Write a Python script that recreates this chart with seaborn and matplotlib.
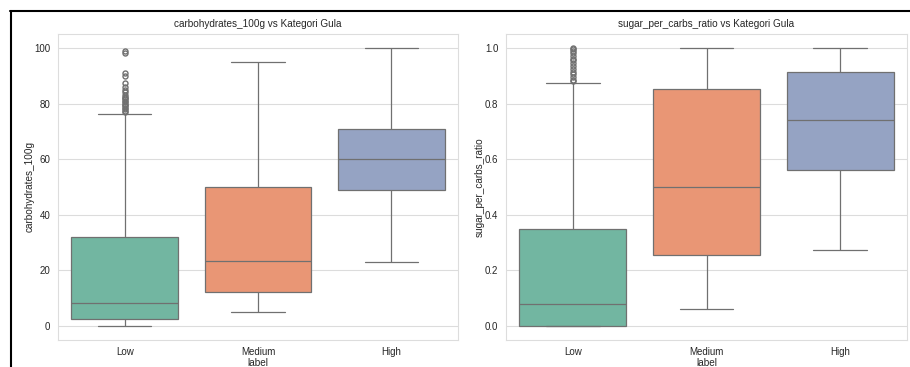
import numpy as np
import pandas as pd
import matplotlib
matplotlib.use("Agg")
import matplotlib.pyplot as plt
from matplotlib.lines import Line2D
import seaborn as sns

# Sugar categories on the x axis
categories = ["Low", "Medium", "High"]

# carbohydrates_100g: box-plot summary per category
carb_whislo = [0.0, 5.1, 23.0]
carb_q1 = [2.4, 12.4, 49.0]
carb_median = [8.3, 23.4, 60.0]
carb_q3 = [32.0, 49.9, 70.9]
carb_whishi = [76.3, 95.1, 100.0]
carb_outliers = [
    [77.0, 77.5, 78.0, 78.5, 79.0, 79.5, 80.0, 80.5, 81.0, 81.5, 82.0,
     82.5, 83.0, 84.0, 85.0, 86.0, 87.5, 90.0, 91.0, 98.2, 98.8],
    [],
    [],
]

# sugar_per_carbs_ratio: box-plot summary per category
ratio_whislo = [0.0, 0.061, 0.272]
ratio_q1 = [0.0, 0.256, 0.562]
ratio_median = [0.08, 0.50, 0.741]
ratio_q3 = [0.350, 0.854, 0.914]
ratio_whishi = [0.873, 1.0, 1.0]
ratio_outliers = [
    [0.88, 0.885, 0.895, 0.905, 0.915, 0.925, 0.935, 0.945, 0.955,
     0.96, 0.97, 0.98, 0.99, 0.995, 1.0],
    [],
    [],
]


def sample_from_summary(lo, q1, med, q3, hi, outs):
    """Sorted sample of 4k+1 values whose quartiles, whisker ends and
    fliers reproduce the given summary under linear percentiles."""
    k = len(outs) + 2
    vals = [lo] + [q1] * k + [med] * k + [q3] * k
    top = [hi] * (k - len(outs)) + list(outs)
    return vals + top


def long_frame(col, whislo, q1, med, q3, whishi, outliers):
    rows = []
    for i, cat in enumerate(categories):
        for v in sample_from_summary(whislo[i], q1[i], med[i], q3[i],
                                     whishi[i], outliers[i]):
            rows.append((cat, v))
    return pd.DataFrame(rows, columns=["label", col])


carb_df = long_frame("carbohydrates_100g", carb_whislo, carb_q1,
                     carb_median, carb_q3, carb_whishi, carb_outliers)
ratio_df = long_frame("sugar_per_carbs_ratio", ratio_whislo, ratio_q1,
                      ratio_median, ratio_q3, ratio_whishi, ratio_outliers)

sns.set_theme(style="whitegrid")
plt.rcParams["font.family"] = ["Liberation Sans", "DejaVu Sans"]
plt.rcParams["grid.linewidth"] = 0.8
plt.rcParams["grid.color"] = "#dcdcdc"
plt.rcParams["axes.linewidth"] = 0.8

W, H = 910, 367
fig = plt.figure(figsize=(W / 100, H / 100), dpi=100)

panels = [
    (carb_df, "carbohydrates_100g", [58, 34, 458, 340]),
    (ratio_df, "sugar_per_carbs_ratio", [506, 34, 907, 340]),
]

for df, col, (x0, y0, x1, y1) in panels:
    ax = fig.add_axes([x0 / W, 1 - y1 / H, (x1 - x0) / W, (y1 - y0) / H])
    sns.boxplot(data=df, x="label", y=col, hue="label", order=categories,
                hue_order=categories, palette="Set2", legend=False,
                linewidth=0.9, linecolor="#707070", fliersize=3.6, ax=ax)
    ax.set_title(f"{col} vs Kategori Gula", fontsize=7.2, pad=5)
    ax.set_xlabel("label", fontsize=7.2, labelpad=0.8)
    ax.set_ylabel(col, fontsize=7.2, labelpad=0)
    ax.tick_params(axis="both", length=0, labelsize=7)
    ax.tick_params(axis="y", pad=5.5)
    ax.tick_params(axis="x", pad=5)
    for s in ax.spines.values():
        s.set_color("#dddddd")

# frame edges around the figure
fig.add_artist(Line2D([10 / W, 1], [1 - 10.5 / H, 1 - 10.5 / H],
                      transform=fig.transFigure, color="black", lw=1.5))
fig.add_artist(Line2D([10.5 / W, 10.5 / W], [0, 1 - 10.5 / H],
                      transform=fig.transFigure, color="black", lw=1.5))

fig.savefig("out.png", dpi=100)
